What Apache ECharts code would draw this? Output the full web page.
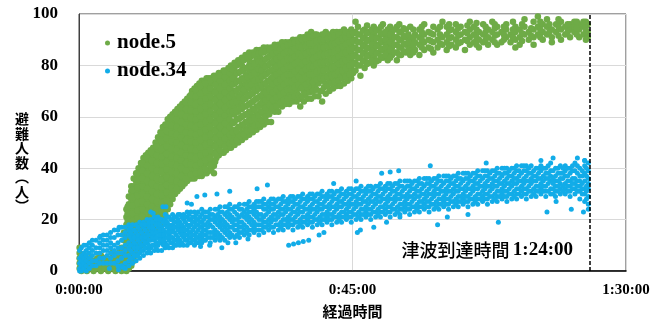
<!DOCTYPE html>
<html>
<head>
<meta charset="utf-8">
<script src="https://cdn.jsdelivr.net/npm/echarts@6/dist/echarts.min.js"></script>
<style>
  html, body { margin: 0; padding: 0; background: #fff; }
  #chart { width: 665px; height: 325px; }
</style>
</head>
<body>
<div id="chart"></div>
<script>
// time in minutes, then the values read at that time
const node5Cols = [
  [0.1, 1, 3, 5, 7, 9], [0.4, 0, 2, 4, 6], [0.8, 1, 3, 6], [1.3, 0, 2, 4], [1.8, 1, 3, 5],
  [2.4, 0, 2, 4], [3.0, 1, 3, 5], [3.6, 0, 2, 4, 6], [4.2, 1, 3, 5], [4.8, 0, 2, 4],
  [5.4, 1, 3, 5, 7], [6.0, 0, 2, 4, 6], [6.5, 1, 3, 5, 7], [7.0, 0, 2, 4, 6, 9], [7.4, 1, 3, 6, 9, 12, 15],
  [7.8, 0, 2, 5, 7, 10, 13, 15, 18, 21, 24],
  [8.2, 1, 4, 6, 9, 12, 14, 17, 20, 23, 26, 29],
  [8.6, 2, 5, 8, 11, 13, 16, 19, 22, 25, 28, 31, 33],
  [9.0, 4, 7, 10, 12, 15, 18, 21, 24, 27, 30, 33, 36],
  [9.4, 6, 9, 11, 14, 17, 20, 23, 26, 29, 32, 35, 38],
  [9.8, 8, 10, 13, 16, 19, 22, 25, 28, 31, 34, 37, 40],
  [10.2, 10, 12, 15, 18, 21, 24, 27, 30, 33, 36, 39, 42],
  [10.6, 11, 14, 17, 20, 23, 26, 29, 32, 35, 38, 41, 44],
  [11.0, 12, 15, 18, 21, 24, 27, 30, 33, 36, 39, 42, 45],
  [11.4, 13, 16, 19, 22, 25, 28, 31, 34, 37, 40, 43, 46],
  [11.8, 14, 17, 20, 23, 26, 29, 32, 35, 38, 41, 44, 47],
  [12.2, 15, 18, 21, 24, 27, 30, 33, 36, 39, 42, 45, 48],
  [12.6, 16, 19, 22, 25, 28, 31, 34, 37, 40, 43, 46, 50],
  [13.0, 17, 20, 23, 26, 29, 32, 35, 38, 41, 44, 47, 50, 52],
  [13.4, 18, 21, 24, 27, 30, 33, 36, 39, 42, 45, 48, 51, 54],
  [13.8, 20, 23, 26, 29, 32, 35, 38, 41, 44, 47, 50, 53, 56],
  [14.2, 22, 25, 28, 31, 34, 37, 40, 43, 46, 49, 52, 55, 57],
  [14.6, 24, 27, 30, 33, 36, 39, 42, 45, 48, 51, 54, 57, 59],
  [15.0, 26, 29, 32, 35, 38, 41, 44, 47, 50, 53, 56, 58, 60],
  [15.4, 28, 31, 34, 37, 40, 43, 46, 49, 52, 55, 58, 61],
  [15.8, 30, 33, 36, 39, 42, 45, 48, 51, 54, 57, 60, 62],
  [16.2, 31, 34, 37, 40, 43, 46, 49, 52, 55, 58, 61, 63],
  [16.6, 32, 35, 38, 41, 44, 47, 50, 53, 56, 59, 62, 64],
  [17.0, 33, 36, 39, 42, 45, 48, 51, 54, 57, 60, 63, 65],
  [17.4, 34, 37, 40, 43, 46, 49, 52, 55, 58, 61, 64, 66],
  [17.8, 35, 38, 41, 44, 47, 50, 53, 56, 59, 62, 65, 67],
  [18.2, 36, 39, 42, 45, 48, 51, 54, 57, 60, 63, 66, 68],
  [18.6, 36, 40, 43, 46, 49, 52, 55, 58, 61, 64, 67, 70],
  [19.0, 36, 39, 42, 45, 48, 51, 54, 57, 60, 63, 66, 69, 71],
  [19.4, 37, 40, 43, 46, 49, 52, 55, 58, 61, 64, 67, 70, 72],
  [19.8, 37, 41, 44, 47, 50, 53, 56, 59, 62, 65, 68, 71, 73],
  [20.2, 37, 40, 43, 46, 49, 52, 55, 58, 61, 64, 67, 70, 74],
  [20.6, 38, 41, 44, 47, 50, 53, 56, 59, 62, 65, 68, 71, 74],
  [21.0, 38, 42, 45, 48, 51, 54, 57, 60, 63, 66, 69, 72, 75],
  [21.4, 39, 42, 45, 48, 51, 54, 57, 60, 63, 66, 69, 72, 75],
  [21.8, 40, 43, 46, 49, 52, 55, 58, 61, 64, 67, 70, 73, 75],
  [22.2, 38, 41, 46, 49, 52, 55, 58, 61, 64, 67, 70, 73, 76],
  [22.6, 44, 47, 50, 53, 56, 59, 62, 65, 68, 71, 74, 76],
  [23.0, 45, 48, 51, 54, 57, 60, 63, 66, 69, 72, 75, 77],
  [23.4, 46, 49, 52, 55, 58, 61, 64, 67, 70, 73, 77],
  [23.8, 46, 50, 53, 56, 59, 62, 65, 68, 71, 74, 78],
  [24.2, 47, 50, 53, 56, 59, 62, 65, 68, 71, 74, 76, 78],
  [24.6, 48, 51, 54, 57, 60, 63, 66, 69, 72, 75, 79],
  [25.0, 48, 52, 55, 58, 61, 64, 67, 70, 73, 76, 80],
  [25.6, 49, 52, 55, 58, 61, 64, 67, 70, 73, 76, 78, 81],
  [26.2, 50, 53, 56, 59, 62, 65, 68, 71, 74, 77, 82],
  [26.8, 51, 54, 57, 60, 63, 66, 69, 72, 75, 78, 80, 83],
  [27.4, 52, 55, 58, 61, 64, 67, 70, 73, 76, 79, 84],
  [28.0, 53, 56, 59, 62, 65, 68, 71, 74, 77, 80, 82, 85],
  [28.6, 54, 57, 60, 63, 66, 69, 72, 75, 78, 81, 85],
  [29.2, 55, 58, 61, 64, 67, 70, 73, 76, 79, 82, 86],
  [29.8, 56, 59, 62, 65, 68, 71, 74, 77, 80, 83, 86],
  [30.4, 57, 61, 64, 67, 70, 73, 76, 79, 82, 85, 87],
  [31.0, 58, 62, 65, 68, 71, 74, 77, 80, 83, 87],
  [31.6, 58, 63, 66, 69, 72, 75, 78, 81, 84, 87],
  [32.2, 62, 65, 68, 71, 74, 77, 80, 83, 86, 88],
  [32.8, 62, 66, 69, 72, 75, 78, 81, 84, 88],
  [33.4, 64, 67, 70, 73, 76, 79, 82, 85, 89],
  [34.0, 65, 68, 71, 74, 77, 80, 83, 86, 89],
  [34.6, 65, 69, 72, 75, 78, 81, 84, 87, 89],
  [35.2, 66, 69, 72, 75, 78, 81, 84, 87, 90],
  [35.8, 66, 70, 73, 76, 79, 82, 85, 88, 90],
  [36.4, 64, 67, 71, 74, 77, 80, 83, 86, 88, 91],
  [37.0, 66, 70, 73, 76, 79, 82, 85, 89, 91],
  [37.6, 67, 71, 74, 77, 80, 83, 86, 89, 92],
  [38.2, 67, 72, 75, 78, 81, 84, 87, 90, 93],
  [38.8, 68, 72, 75, 78, 81, 84, 87, 90, 92],
  [39.4, 68, 73, 76, 79, 82, 85, 88, 91],
  [40.0, 66, 70, 74, 77, 80, 83, 86, 89, 92],
  [40.6, 69, 73, 76, 79, 82, 85, 88, 91, 93],
  [41.2, 70, 74, 77, 80, 83, 86, 89, 92],
  [41.8, 71, 74, 77, 80, 83, 86, 89, 93],
  [42.4, 72, 75, 78, 81, 84, 87, 90, 93],
  [43.0, 72, 76, 79, 82, 85, 88, 91, 93],
  [43.6, 73, 77, 80, 83, 86, 89, 92, 94],
  [44.2, 74, 78, 81, 84, 87, 90, 93],
  [44.8, 75, 79, 82, 85, 88, 91, 94],
  [45.5, 78, 81, 84, 87, 90, 93, 97], [46.3, 76, 80, 83, 86, 89, 92], [47.0, 79, 82, 85, 88, 91, 94],
  [47.8, 81, 84, 87, 90, 93], [48.5, 80, 83, 86, 89, 92, 95], [49.3, 82, 85, 88, 91, 94],
  [50.0, 83, 86, 89, 92, 96], [50.8, 82, 85, 88, 91, 94], [51.5, 84, 87, 90, 93],
  [52.3, 82, 85, 88, 91, 95], [53.0, 84, 87, 90, 93], [53.8, 85, 88, 91, 94],
  [54.5, 84, 87, 90, 95], [55.3, 86, 89, 92], [56.0, 84, 88, 91, 94], [56.8, 86, 89, 92, 96],
  [57.5, 87, 90, 93], [58.3, 85, 89, 92, 95], [59.0, 87, 90, 94], [59.8, 88, 91, 97],
  [60.5, 86, 89, 92, 95], [61.3, 88, 91, 94], [62.0, 87, 90, 93, 96], [62.8, 89, 92, 95],
  [63.5, 86, 90, 93], [64.3, 88, 91, 94, 97], [65.0, 89, 92, 95], [65.8, 87, 90, 93],
  [66.5, 89, 92, 96], [67.3, 88, 91, 94], [68.0, 90, 93, 97], [68.8, 88, 92, 95],
  [69.5, 89, 93], [70.3, 91, 94, 96], [71.0, 89, 92], [71.8, 87, 90, 93, 95],
  [72.5, 88, 91, 94], [73.3, 92, 95, 98], [74.0, 90, 93], [74.8, 88, 91, 94, 97],
  [75.5, 92, 95, 99], [76.3, 90, 93, 96], [77.0, 92, 95, 98], [77.8, 89, 91, 94],
  [78.5, 93, 96], [79.3, 90, 94, 97], [80.0, 92, 95], [80.8, 91, 94, 96],
  [81.5, 93, 95, 97], [82.3, 91, 94, 96], [83.0, 92, 95, 97], [83.7, 91, 93, 96]
];

// extra node.5 runs read between the columns above
const node5ColsB = [
  [8.0, 1.5, 4.5, 7.5, 10.5, 13.5, 16.5, 19.5, 22.5, 25],
  [8.8, 4.5, 7.5, 10.5, 13.5, 16.5, 19.5, 22.5, 25.5, 28.5, 31.5],
  [9.6, 8.5, 11.5, 14.5, 17.5, 20.5, 23.5, 26.5, 29.5, 32.5, 35.5, 38],
  [10.4, 12, 15, 18, 21, 24, 27, 30, 33, 36, 39, 42],
  [11.2, 14, 17, 20, 23, 26, 29, 32, 35, 38, 41, 44],
  [12.0, 16, 19, 22, 25, 28, 31, 34, 37, 40, 43, 46],
  [12.8, 18, 21, 24, 27, 30, 33, 36, 39, 42, 45, 48.5],
  [13.6, 20.5, 23.5, 26.5, 29.5, 32.5, 35.5, 38.5, 41.5, 44.5, 47.5, 50.5, 53.5],
  [14.4, 24.5, 27.5, 30.5, 33.5, 36.5, 39.5, 42.5, 45.5, 48.5, 51.5, 54.5, 57],
  [15.2, 29.5, 32.5, 35.5, 38.5, 41.5, 44.5, 47.5, 50.5, 53.5, 56.5, 59.5],
  [16.0, 32, 35, 38, 41, 44, 47, 50, 53, 56, 59, 61.5],
  [16.8, 34, 37, 40, 43, 46, 49, 52, 55, 58, 61, 63.5],
  [17.6, 36, 39, 42, 45, 48, 51, 54, 57, 60, 63, 65.5],
  [18.4, 37.5, 41.5, 44.5, 47.5, 50.5, 53.5, 56.5, 59.5, 62.5, 65.5, 68.5],
  [19.2, 38, 41, 44, 47, 50, 53, 56, 59, 62, 65, 68, 70.5],
  [20.0, 38.5, 42, 45, 48, 51, 54, 57, 60, 63, 66, 69, 72],
  [20.8, 39.5, 43, 46, 49, 52, 55, 58, 61, 64, 67, 70, 73],
  [21.6, 41, 44, 47, 50, 53, 56, 59, 62, 65, 68, 71, 74],
  [22.4, 42.5, 45.5, 48.5, 51.5, 54.5, 57.5, 60.5, 63.5, 66.5, 69.5, 72.5, 75],
  [23.2, 47, 50, 53, 56, 59, 62, 65, 68, 71, 74, 76],
  [24.0, 48.5, 51.5, 54.5, 57.5, 60.5, 63.5, 66.5, 69.5, 72.5, 75.5, 77.5],
  [24.8, 49.5, 53, 56, 59, 62, 65, 68, 71, 74, 77, 79],
  [25.3, 50.5, 54, 57.5, 62, 65.5, 69, 72.5, 75, 78.5],
  [25.9, 51, 54.5, 59, 62.5, 66, 70, 73.5, 77, 80],
  [26.5, 52.5, 56, 59.5, 63, 67.5, 71, 74, 77.5, 81],
  [27.1, 53, 57, 60.5, 64, 67, 70.5, 74.5, 78, 82],
  [27.7, 54.5, 58, 61, 64.5, 68.5, 72, 75.5, 79, 83],
  [28.3, 55, 58.5, 62, 65.5, 69, 72.5, 76, 79.5, 83.5],
  [28.9, 56.5, 59.5, 63, 66.5, 70.5, 74, 77, 80.5, 84],
  [29.5, 57, 60.5, 64, 67.5, 71, 74.5, 78.5, 81.5, 84.5],
  [30.1, 58.5, 62, 65.5, 68.5, 72, 75.5, 78, 81, 85],
  [30.7, 60, 63.5, 66.5, 69.5, 73, 76.5, 79.5, 82.5, 85.5],
  [31.3, 61, 64.5, 67.5, 70.5, 74, 77.5, 80.5, 83.5, 86],
  [31.9, 63.5, 66.5, 69.5, 72.5, 75.5, 78.5, 81.5, 84.5],
  [32.5, 64, 67.5, 70.5, 73.5, 76.5, 79.5, 82.5, 85.5, 87],
  [33.1, 65.5, 68.5, 71.5, 74.5, 77.5, 80.5, 83.5, 86.5],
  [33.7, 66.5, 69.5, 72.5, 75.5, 78.5, 81.5, 84.5, 87.5],
  [34.3, 67, 70.5, 73.5, 76.5, 79.5, 82.5, 85.5, 88],
  [34.9, 67.5, 70.5, 73.5, 76.5, 79.5, 82.5, 85.5, 88.5],
  [35.5, 68, 71.5, 74.5, 77.5, 80.5, 83.5, 86.5, 89],
  [36.1, 68.5, 72.5, 75.5, 78.5, 81.5, 84.5, 87.5, 89.5],
  [36.7, 68, 71.5, 74.5, 77.5, 80.5, 83.5, 87, 90],
  [37.3, 69, 72.5, 75.5, 78.5, 81.5, 84.5, 87.5, 90.5],
  [37.9, 69.5, 73.5, 76.5, 79.5, 82.5, 85.5, 88.5, 91],
  [38.5, 70, 73.5, 76.5, 79.5, 82.5, 85.5, 88.5, 91.5],
  [39.1, 70.5, 74.5, 77.5, 80.5, 83.5, 86.5, 89.5, 92],
  [39.7, 70, 75, 78, 81, 84, 87, 90],
  [40.3, 71.5, 75, 78, 81, 84, 87, 90, 92],
  [40.9, 72, 75.5, 78.5, 81.5, 84.5, 87.5, 90.5],
  [41.5, 73, 76, 79, 82, 85, 88, 91],
  [42.1, 73.5, 76.5, 79.5, 82.5, 85.5, 88.5, 91.5],
  [42.7, 74, 77.5, 80.5, 83.5, 86.5, 89.5, 92],
  [43.3, 75, 78, 81.5, 84.5, 87.5, 90.5],
  [43.9, 75.5, 79, 82, 85, 88, 91, 93],
  [44.5, 76.5, 80, 83, 86, 89, 92],
  [45.1, 77, 80.5, 83.5, 86.5, 89.5, 92.5],
  [45.9, 80, 83, 86, 89, 92, 95], [46.7, 81.5, 84.5, 87.5, 90.5, 93.5], [47.4, 80.5, 83.5, 86.5, 89.5, 92.5, 95.5],
  [48.2, 82, 85, 88, 91, 94], [48.9, 81.5, 84.5, 87.5, 90.5, 93.5], [49.7, 83.5, 86.5, 89.5, 92.5, 95],
  [50.4, 84, 87, 90, 93], [51.2, 83, 86, 89, 92, 95], [51.9, 85, 88, 91, 94], [52.7, 84, 87, 90, 93, 96],
  [53.4, 85.5, 88.5, 91.5, 94.5], [54.2, 86, 89, 92], [55.0, 85, 88, 91, 94], [56.4, 87, 90, 93, 95],
  [57.9, 86.5, 89.5, 92.5], [59.4, 88.5, 92, 95], [60.9, 87.5, 90.5, 93.5, 96], [62.4, 88.5, 91.5, 94.5],
  [63.9, 89.5, 92.5, 95.5], [65.4, 88, 91, 94, 96.5], [66.9, 90, 93, 95], [68.4, 89, 91.5, 94.5, 96],
  [69.9, 90, 92, 95], [71.4, 91, 94, 97], [72.9, 89.5, 92.5, 96], [74.4, 91.5, 94.5],
  [75.9, 91, 94, 97], [77.4, 93, 96], [78.9, 91.5, 95, 98], [80.4, 93, 96],
  [81.9, 92, 94.5, 97], [83.4, 90, 93, 95, 97]
];

const node34Cols = [
  [0.1, 0, 1, 3, 5, 8], [0.4, 0, 2, 4, 6, 9], [0.8, 1, 3, 5, 7, 10], [1.2, 0, 2, 4, 6, 8, 10],
  [1.7, 1, 3, 5, 7, 9, 11], [2.2, 2, 4, 6, 8, 10, 12], [2.8, 2, 4, 7, 9, 12], [3.4, 3, 5, 7, 9, 11, 13],
  [4.0, 3, 5, 8, 10, 12, 14], [4.6, 3, 6, 8, 10, 12, 14], [5.2, 3, 5, 7, 9, 11, 13, 15],
  [5.8, 3, 6, 8, 10, 13, 16], [6.4, 2, 4, 7, 9, 11, 14, 16], [7.0, 2, 5, 7, 9, 12, 14, 17],
  [7.6, 1, 3, 6, 8, 10, 13, 15, 17], [8.2, 2, 4, 6, 9, 11, 14, 16, 18], [8.8, 3, 5, 7, 10, 12, 14, 16, 18],
  [9.4, 4, 6, 8, 10, 13, 15, 18], [10.0, 5, 7, 9, 11, 13, 16, 19], [10.6, 6, 8, 10, 12, 14, 17, 19],
  [11.2, 7, 9, 11, 13, 15, 18, 20], [11.8, 7, 9, 12, 14, 16, 18, 20], [12.4, 8, 10, 12, 14, 16, 19, 21],
  [13.0, 8, 10, 13, 15, 17, 19, 21], [13.6, 8, 11, 13, 15, 17, 20], [14.2, 9, 11, 13, 15, 18, 20, 22],
  [14.8, 9, 12, 14, 16, 18, 21], [15.4, 9, 11, 13, 16, 18, 20, 22], [16.0, 10, 12, 14, 17, 19, 21],
  [16.6, 10, 12, 15, 17, 19, 22], [17.2, 10, 13, 15, 17, 20, 22], [17.8, 10, 12, 14, 16, 18, 21, 23],
  [18.4, 11, 13, 15, 18, 20, 23], [19.0, 10, 12, 14, 17, 19, 21, 23], [19.6, 11, 13, 16, 18, 20, 23],
  [20.2, 11, 13, 15, 17, 19, 22, 24], [20.8, 12, 14, 16, 18, 21, 23],
  [21.6, 11, 13, 15, 18, 20, 22, 24], [22.4, 12, 14, 16, 19, 21, 24], [23.2, 12, 14, 17, 19, 21, 23, 25],
  [24.0, 12, 15, 17, 19, 22, 25], [24.8, 13, 15, 17, 20, 22, 24, 26], [25.6, 13, 16, 18, 20, 23, 25],
  [26.4, 13, 15, 17, 19, 21, 24, 26], [27.2, 14, 16, 18, 21, 23, 26], [28.0, 14, 16, 19, 21, 23, 25, 27],
  [28.8, 15, 17, 19, 22, 24, 26], [29.6, 14, 16, 18, 20, 22, 25, 27], [30.4, 15, 17, 19, 21, 24, 26, 28],
  [31.2, 16, 18, 20, 23, 25, 27], [32.0, 15, 17, 20, 22, 24, 26, 28], [32.8, 16, 18, 21, 23, 25, 28],
  [33.6, 16, 18, 20, 22, 24, 27, 29], [34.4, 17, 19, 21, 24, 26, 28], [35.2, 16, 18, 20, 23, 25, 27, 29],
  [36.0, 17, 19, 22, 24, 26, 29], [36.8, 17, 19, 21, 23, 25, 28, 30], [37.6, 18, 20, 22, 24, 27, 29],
  [38.4, 17, 19, 21, 24, 26, 28, 30], [39.2, 18, 20, 23, 25, 27, 30], [40.0, 18, 20, 22, 24, 26, 29, 31],
  [40.8, 19, 21, 23, 25, 28, 30], [41.6, 18, 20, 22, 25, 27, 29, 31], [42.4, 19, 21, 24, 26, 28, 31],
  [43.2, 19, 21, 23, 25, 27, 30, 32], [44.0, 20, 22, 24, 26, 29, 31], [44.8, 19, 21, 23, 26, 28, 30, 32],
  [45.6, 20, 22, 25, 27, 29, 32], [46.4, 20, 22, 24, 26, 28, 31, 33], [47.2, 21, 23, 25, 27, 30, 32],
  [48.0, 20, 22, 24, 27, 29, 31, 33], [48.8, 21, 23, 26, 28, 30, 33], [49.6, 21, 23, 25, 27, 29, 32, 34],
  [50.4, 22, 24, 26, 28, 31, 33], [51.2, 21, 23, 25, 28, 30, 32, 34], [52.0, 22, 24, 27, 29, 31, 34],
  [52.8, 22, 24, 26, 28, 30, 33, 35], [53.6, 23, 25, 27, 29, 32, 35], [54.4, 22, 24, 26, 29, 31, 33, 35],
  [55.2, 23, 25, 28, 30, 32, 35], [56.0, 23, 25, 27, 29, 31, 34, 36], [56.8, 24, 26, 28, 30, 33, 36],
  [57.6, 23, 25, 27, 30, 32, 34, 36], [58.4, 24, 26, 29, 31, 33, 36], [59.2, 24, 26, 28, 30, 32, 35, 37],
  [60.0, 25, 27, 29, 31, 34, 37], [60.8, 24, 26, 28, 31, 33, 35, 37], [61.6, 25, 27, 30, 32, 34, 37],
  [62.4, 25, 27, 29, 31, 33, 36, 38], [63.2, 26, 28, 30, 32, 35, 38], [64.0, 25, 27, 29, 32, 34, 36, 38],
  [64.8, 26, 28, 31, 33, 35, 38], [65.6, 26, 28, 30, 32, 34, 37, 39], [66.4, 27, 29, 31, 33, 36, 39],
  [67.2, 26, 28, 30, 33, 35, 37, 39], [68.0, 27, 29, 32, 34, 36, 39], [68.8, 27, 29, 31, 33, 35, 38, 40],
  [69.6, 28, 30, 32, 34, 37, 40], [70.4, 27, 29, 31, 34, 36, 38, 40], [71.2, 28, 30, 33, 35, 37, 40],
  [72.0, 28, 30, 32, 34, 36, 39, 41], [72.8, 29, 31, 33, 35, 38, 41], [73.6, 28, 30, 32, 35, 37, 39, 41],
  [74.4, 29, 31, 34, 36, 38, 41], [75.2, 29, 31, 33, 35, 37, 40], [76.0, 30, 32, 34, 36, 39, 41],
  [76.8, 29, 31, 33, 36, 38, 40], [77.6, 30, 32, 35, 37, 39, 42], [78.4, 29, 31, 33, 35, 37, 40],
  [79.2, 30, 32, 34, 36, 38, 41], [80.0, 30, 32, 34, 37, 39, 41], [80.8, 29, 31, 33, 35, 38, 40],
  [81.6, 30, 32, 34, 36, 39, 42], [82.4, 28, 31, 33, 35, 37, 40], [83.2, 27, 30, 32, 35, 38, 41, 43],
  [83.8, 24, 26, 29, 32, 34, 36, 39, 42]
];

// extra node.34 runs read between the columns above
const node34ColsB = [
  [8.5, 5, 8, 10, 13, 15, 17], [9.1, 6, 9, 11, 13, 16], [9.7, 6, 9, 12, 14, 17], [10.3, 8, 10, 13, 15, 18],
  [10.9, 9, 11, 13, 16, 18], [11.5, 8, 10, 12, 14, 17, 19], [12.1, 10, 13, 15, 17, 19], [12.7, 9, 11, 13, 15, 18, 20],
  [13.3, 11, 12, 14, 16, 18, 20], [13.9, 10, 12, 14, 16, 19], [14.5, 10, 13, 15, 17, 19, 21], [15.1, 11, 13, 15, 17, 20],
  [15.7, 10, 12, 15, 17, 19, 21], [16.3, 11, 13, 16, 18, 20, 22], [16.9, 11, 14, 16, 18, 21], [17.5, 12, 14, 16, 19, 21],
  [18.1, 11, 13, 15, 17, 20, 22], [18.7, 12, 14, 16, 19, 21], [19.3, 11, 13, 15, 18, 20, 22], [19.9, 12, 14, 17, 19, 21],
  [20.5, 12, 14, 16, 18, 20, 23], [21.2, 13, 15, 17, 19, 21, 23], [22.0, 13, 15, 17, 20, 22], [22.8, 13, 15, 18, 20, 22, 24],
  [23.6, 13, 16, 18, 20, 23], [24.4, 14, 16, 18, 21, 23, 25], [25.2, 14, 17, 19, 21, 24], [26.0, 14, 16, 18, 20, 22, 25],
  [26.8, 15, 17, 19, 22, 24], [27.6, 15, 17, 20, 22, 24, 26], [28.4, 16, 18, 20, 23, 25], [29.2, 16, 18, 21, 23, 25, 27],
  [30.0, 16, 18, 20, 22, 25, 27], [30.8, 17, 19, 22, 24, 26], [31.6, 17, 19, 21, 24, 26, 28], [32.4, 18, 20, 22, 25, 27],
  [33.2, 17, 19, 22, 24, 26, 28], [34.0, 18, 20, 23, 25, 27], [34.8, 18, 20, 22, 24, 27, 29], [35.6, 19, 21, 23, 26, 28],
  [36.4, 18, 20, 23, 25, 27, 29], [37.2, 19, 21, 24, 26, 28], [38.0, 19, 21, 23, 25, 28, 30], [38.8, 20, 22, 24, 27, 29],
  [39.6, 19, 21, 24, 26, 28, 30], [40.4, 20, 22, 25, 27, 29], [41.2, 20, 22, 24, 26, 29, 31], [42.0, 21, 23, 25, 28, 30],
  [42.8, 20, 22, 25, 27, 29, 31], [43.6, 21, 23, 26, 28, 30], [44.4, 21, 23, 25, 27, 30, 32], [45.2, 22, 24, 26, 29, 31],
  [46.0, 21, 23, 26, 28, 30, 32], [46.8, 22, 24, 27, 29, 31], [47.6, 22, 24, 26, 28, 31, 33], [48.4, 23, 25, 27, 30, 32],
  [49.2, 22, 24, 27, 29, 31, 33], [50.0, 23, 25, 28, 30, 32], [50.8, 23, 25, 27, 29, 32, 34], [51.6, 24, 26, 28, 31, 33],
  [52.4, 23, 25, 28, 30, 32, 34], [53.2, 24, 26, 29, 31, 33], [54.0, 24, 26, 28, 30, 33, 35], [54.8, 25, 27, 29, 32, 34],
  [55.6, 24, 26, 29, 31, 33, 35], [56.4, 25, 27, 30, 32, 34], [57.2, 25, 27, 29, 31, 34, 36], [58.0, 26, 28, 30, 33, 35],
  [58.8, 25, 27, 30, 32, 34, 36], [59.6, 26, 28, 31, 33, 35], [60.4, 26, 28, 30, 32, 35, 37], [61.2, 27, 29, 31, 34, 36],
  [62.0, 26, 28, 31, 33, 35, 37], [62.8, 27, 29, 32, 34, 36], [63.6, 27, 29, 31, 33, 36, 38], [64.4, 28, 30, 32, 35, 37],
  [65.2, 27, 29, 32, 34, 36, 38], [66.0, 28, 30, 33, 35, 37], [66.8, 28, 30, 32, 34, 37, 39], [67.6, 29, 31, 33, 36, 38],
  [68.4, 28, 30, 33, 35, 37, 39], [69.2, 29, 31, 34, 36, 38], [70.0, 29, 31, 33, 35, 38, 40], [70.8, 30, 32, 34, 37, 39],
  [71.6, 29, 31, 34, 36, 38, 40], [72.4, 30, 32, 35, 37, 39], [73.2, 30, 32, 34, 36, 39, 41], [74.0, 31, 33, 35, 38, 40],
  [74.8, 30, 32, 35, 37, 39], [75.6, 31, 33, 36, 38, 40], [76.4, 31, 33, 35, 37, 40], [77.2, 31, 34, 36, 38, 41],
  [78.0, 30, 32, 34, 36, 39], [78.8, 31, 33, 35, 38, 40], [79.6, 31, 33, 36, 38, 40], [80.4, 31, 33, 35, 37, 40],
  [81.2, 32, 34, 36, 39, 41], [82.0, 31, 33, 35, 38, 41], [82.8, 30, 32, 34, 37, 39], [83.5, 28, 31, 33, 37, 40]
];

// stray node.34 points above and below the main band
const node34Stray = [
  [3.5, 13.5], [6.6, 17], [11.8, 23], [12.2, 22.5], [13.8, 25], [14.3, 25], [17.8, 26.5], [18.5, 26],
  [19.4, 29], [20.7, 29.6], [22.7, 30], [24.8, 31], [29.3, 32], [31, 33.5], [41.9, 34], [45.6, 35],
  [49.8, 38], [51.2, 38.5], [52.6, 39], [57.8, 41], [67, 42], [76, 43], [78, 44], [82, 44], [83.2, 43],
  [5, 1], [6.5, 0.5], [7.2, 1.5], [20, 9.5], [21.5, 10], [23.5, 9], [24.5, 11], [25.8, 11], [27.8, 12.5],
  [34.5, 10], [35.3, 10.5], [36.1, 11], [36.9, 11.5], [37.8, 12], [39.5, 14], [40.3, 15], [45.8, 15],
  [46.3, 16], [48.5, 17], [50.6, 19], [52.8, 21], [59, 18], [60.6, 21], [64, 22], [69, 19], [77, 23],
  [78.5, 27], [81, 24], [83, 23]
];

const tsunamiMinute = 84;

function flatten(cols) {
  const out = [];
  cols.forEach(c => { for (let i = 1; i < c.length; i++) out.push([c[0], c[i]]); });
  return out;
}

function hms(min) {
  return Math.floor(min / 60) + ':' + String(min % 60).padStart(2, '0') + ':00';
}

const serif = '"Liberation Serif", "Times New Roman", serif';
const cjk = '"Noto Sans CJK JP", sans-serif';

const chart = echarts.init(document.getElementById('chart'), null, { renderer: 'canvas' });
chart.setOption({
  animation: false,
  backgroundColor: '#fff',
  grid: { left: 79, right: 39, top: 14, bottom: 54, show: true, borderColor: '#404040', borderWidth: 1 },
  legend: {
    orient: 'vertical', left: 100, top: 27, itemGap: 6,
    icon: 'circle', itemWidth: 5, itemHeight: 5,
    textStyle: { fontFamily: serif, fontWeight: 'bold', fontSize: 21, color: '#000', lineHeight: 22, padding: [0, 0, 0, 2] },
    data: ['node.5', 'node.34']
  },
  xAxis: {
    type: 'value', min: 0, max: 90, interval: 45,
    name: '経過時間', nameLocation: 'middle', nameGap: 33,
    nameTextStyle: { fontFamily: cjk, fontWeight: 'bold', fontSize: 15, color: '#000' },
    axisLine: { show: true, lineStyle: { color: '#000', width: 1.5 } },
    axisTick: { show: false },
    axisLabel: { formatter: hms, margin: 12, fontFamily: serif, fontWeight: 'bold', fontSize: 15, color: '#000' },
    splitLine: { show: true, lineStyle: { color: '#d9d9d9' } }
  },
  yAxis: {
    type: 'value', min: 0, max: 100, interval: 20,
    axisLine: { show: true, lineStyle: { color: '#404040' } },
    axisTick: { show: false },
    axisLabel: { margin: 21, fontFamily: serif, fontWeight: 'bold', fontSize: 17, color: '#000' },
    splitLine: { show: true, lineStyle: { color: '#d9d9d9' } }
  },
  graphic: [
    {
      type: 'text', left: 15, top: 'middle',
      style: {
        text: '避\n難\n人\n数\n︵\n人\n︶', fontFamily: cjk, fontWeight: 'bold', fontSize: 14,
        lineHeight: 14.5, fill: '#000', align: 'center'
      }
    },
    {
      type: 'text', right: 92, top: 241,
      style: {
        text: '{c|津波到達時間} {n|1:24:00}',
        rich: {
          c: { fontFamily: cjk, fontSize: 18, fill: '#000', fontWeight: 500 },
          n: { fontFamily: serif, fontWeight: 'bold', fontSize: 19, fill: '#000' }
        }
      }
    }
  ],
  series: [
    {
      name: 'node.5', type: 'scatter', symbolSize: 6.5,
      itemStyle: { color: '#6eab47', opacity: 1 },
      data: flatten(node5Cols).concat(flatten(node5ColsB))
    },
    {
      name: 'node.34', type: 'scatter', symbolSize: 5,
      itemStyle: { color: '#12ace8', opacity: 1 },
      data: flatten(node34Cols).concat(flatten(node34ColsB), node34Stray),
      markLine: {
        silent: true, symbol: 'none', animation: false,
        label: { show: false },
        lineStyle: { color: '#000', type: [4, 2], width: 1.5 },
        data: [{ xAxis: tsunamiMinute }]
      }
    }
  ]
});
</script>
</body>
</html>
